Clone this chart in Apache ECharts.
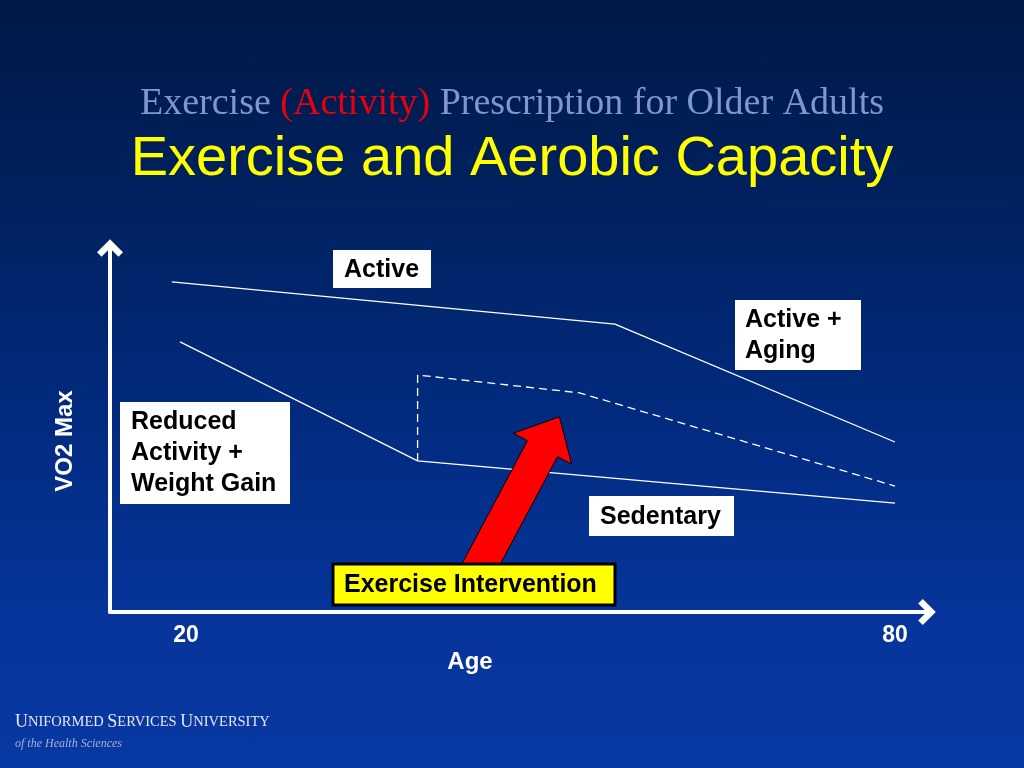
<!DOCTYPE html>
<html>
<head>
<meta charset="utf-8">
<script src="https://cdn.jsdelivr.net/npm/echarts@6/dist/echarts.min.js"></script>
<style>
html,body{margin:0;padding:0;width:1024px;height:768px;overflow:hidden;}
#chart{width:1024px;height:768px;background:linear-gradient(to bottom,#001846 0%,#00215e 25%,#022b80 55%,#06349a 80%,#0838a2 100%);}
</style>
</head>
<body>
<div id="chart"></div>
<script>
// Age (years) and VO2 max (relative units, 0-100)
const activeAge = [18.8, 56.3, 80];
const activeVO2 = [90.7, 79.1, 46.7];
const sedentaryAge = [19.5, 39.6, 80];
const sedentaryVO2 = [74.2, 41.5, 29.9];
const interventionAge = [39.6, 39.6, 53.3, 80];
const interventionVO2 = [41.5, 65.1, 60.2, 34.6];
const arrowFrom = [43.8, 6.0];
const arrowTo = [51.6, 53.6];
const xTickLabels = [20, 80];

const chart = echarts.init(document.getElementById('chart'), null, {renderer: 'canvas'});

function pairs(xs, ys) { return xs.map((x, i) => [x, ys[i]]); }

const chevron = 'path://M10,0 L20,10 L16.5,13.5 L10,7 L3.5,13.5 L0,10 Z';
const boxFont = 'bold 25px "Liberation Sans"';

const option = {
  backgroundColor: 'transparent',
  animation: false,
  title: [
    {
      text: '{a|Exercise }{b|(Activity)}{a| Prescription for Older Adults}',
      left: 'center', top: 80,
      textStyle: {
        fontWeight: 'normal',
        rich: {
          a: {color: '#8196cc', fontSize: 38, fontWeight: 'normal', fontFamily: 'Liberation Serif'},
          b: {color: '#e8000c', fontSize: 38, fontWeight: 'normal', fontFamily: 'Liberation Serif'}
        }
      }
    },
    {
      text: 'Exercise and Aerobic Capacity',
      left: 'center', top: 127,
      textStyle: {color: '#ffff00', fontSize: 56, fontWeight: 'normal', fontFamily: 'Liberation Sans'}
    }
  ],
  grid: {left: 110, right: 97, top: 248, bottom: 156},
  xAxis: {
    type: 'value', min: 13.57, max: 82.71,
    axisLine: {show: true, symbol: ['none', chevron], symbolSize: [26, 18], lineStyle: {color: '#ffffff', width: 4}},
    axisTick: {show: false},
    splitLine: {show: false},
    axisLabel: {customValues: xTickLabels, color: '#ffffff', fontSize: 23, fontWeight: 'bold', fontFamily: 'Liberation Sans', margin: 12}
  },
  yAxis: {
    type: 'value', min: 0, max: 100,
    axisLine: {show: true, symbol: ['none', chevron], symbolSize: [26, 18], lineStyle: {color: '#ffffff', width: 4}},
    axisTick: {show: false},
    splitLine: {show: false},
    axisLabel: {show: false}
  },
  series: [
    {
      name: 'Active', type: 'line', data: pairs(activeAge, activeVO2),
      showSymbol: false, lineStyle: {color: '#ffffff', width: 1.3}, z: 3
    },
    {
      name: 'Sedentary', type: 'line', data: pairs(sedentaryAge, sedentaryVO2),
      showSymbol: false, lineStyle: {color: '#ffffff', width: 1.3}, z: 3
    },
    {
      name: 'Exercise Intervention', type: 'line', data: pairs(interventionAge, interventionVO2),
      showSymbol: false, lineStyle: {color: '#ffffff', width: 1.3, type: [8, 5]}, z: 3
    },
    {
      name: 'arrow', type: 'custom', z: 5,
      data: [[arrowFrom[0], arrowFrom[1], arrowTo[0], arrowTo[1]]],
      renderItem: function (params, api) {
        const p0 = api.coord([api.value(0), api.value(1)]);
        const p1 = api.coord([api.value(2), api.value(3)]);
        const dx = p1[0] - p0[0], dy = p1[1] - p0[1];
        const len = Math.sqrt(dx * dx + dy * dy);
        const ux = dx / len, uy = dy / len;
        const nx = -uy, ny = ux;
        const sw = 17, hw = 33, hl = 36;
        const bx = p1[0] - ux * hl, by = p1[1] - uy * hl;
        const pts = [
          [p0[0] + nx * sw, p0[1] + ny * sw],
          [bx + nx * sw, by + ny * sw],
          [bx + nx * hw, by + ny * hw],
          [p1[0], p1[1]],
          [bx - nx * hw, by - ny * hw],
          [bx - nx * sw, by - ny * sw],
          [p0[0] - nx * sw, p0[1] - ny * sw]
        ];
        return {type: 'polygon', shape: {points: pts}, style: {fill: '#ff0000', stroke: '#000000', lineWidth: 1}};
      }
    }
  ],
  graphic: [
    // axis names
    {type: 'text', z: 100, x: 470, y: 662, style: {text: 'Age', fill: '#ffffff', font: 'bold 24px "Liberation Sans"', align: 'center', verticalAlign: 'middle'}},
    {type: 'text', z: 100, x: 65, y: 441, rotation: Math.PI / 2, style: {text: 'VO2 Max', fill: '#ffffff', font: 'bold 24px "Liberation Sans"', align: 'center', verticalAlign: 'middle'}},
    // label boxes
    {type: 'rect', z: 100, shape: {x: 333, y: 250, width: 98, height: 38}, style: {fill: '#ffffff'}},
    {type: 'text', z: 101, x: 344, y: 270, style: {text: 'Active', fill: '#000000', font: boxFont, verticalAlign: 'middle'}},
    {type: 'rect', z: 100, shape: {x: 735, y: 300, width: 126, height: 70}, style: {fill: '#ffffff'}},
    {type: 'text', z: 101, x: 745, y: 305, style: {text: 'Active +\nAging', fill: '#000000', font: boxFont, lineHeight: 31, verticalAlign: 'top'}},
    {type: 'rect', z: 100, shape: {x: 120, y: 402, width: 170, height: 102}, style: {fill: '#ffffff'}},
    {type: 'text', z: 101, x: 131, y: 407, style: {text: 'Reduced\nActivity +\nWeight Gain', fill: '#000000', font: boxFont, lineHeight: 31, verticalAlign: 'top'}},
    {type: 'rect', z: 100, shape: {x: 589, y: 496, width: 145, height: 40}, style: {fill: '#ffffff'}},
    {type: 'text', z: 101, x: 600, y: 517, style: {text: 'Sedentary', fill: '#000000', font: boxFont, verticalAlign: 'middle'}},
    {type: 'rect', z: 100, shape: {x: 333, y: 564, width: 282, height: 41}, style: {fill: '#ffff00', stroke: '#000000', lineWidth: 3}},
    {type: 'text', z: 101, x: 344, y: 585, style: {text: 'Exercise Intervention', fill: '#000000', font: boxFont, verticalAlign: 'middle'}},
    // footer logo
    {type: 'text', z: 100, x: 15, y: 731, style: {
      text: '{c|U}{s|NIFORMED }{c|S}{s|ERVICES }{c|U}{s|NIVERSITY}',
      verticalAlign: 'bottom',
      rich: {
        c: {fill: '#e4e8f4', font: '18px "Liberation Serif"'},
        s: {fill: '#e4e8f4', font: '14.5px "Liberation Serif"'}
      }
    }},
    {type: 'text', z: 100, x: 15, y: 744, style: {text: 'of the Health Sciences', fill: '#a6b2d8', font: 'italic 12px "Liberation Serif"', verticalAlign: 'middle'}}
  ]
};
chart.setOption(option);
</script>
</body>
</html>
